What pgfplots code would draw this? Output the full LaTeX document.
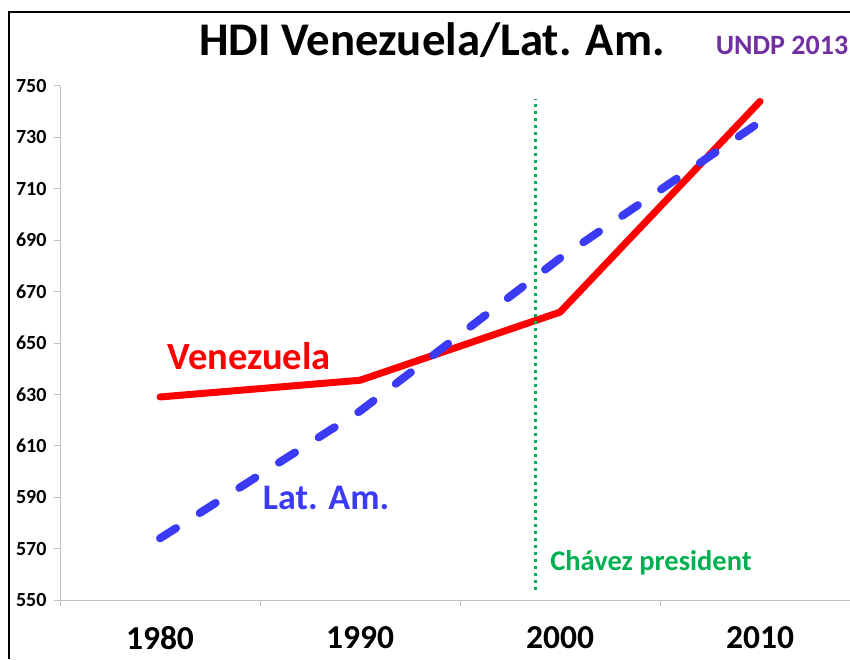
\documentclass[border=0pt]{standalone}
\usepackage{fontspec}
\setmainfont{Carlito}
\usepackage{pgfplots}
\pgfplotsset{compat=1.18}
\definecolor{vred}{HTML}{FF0000}
\definecolor{lblue}{HTML}{3B3BF5}
\definecolor{cgreen}{HTML}{00B050}
\definecolor{upurple}{HTML}{7030A0}
\definecolor{axgray}{HTML}{BFBFBF}
\begin{document}
\begin{tikzpicture}[x=1pt,y=1pt]
\useasboundingbox (0,0) rectangle (850,659);
% slide frame
\draw[line width=2pt,black] (9,0) -- (9,647) -- (850,647);
% title
\node[text=black] at (432,619) {\fontsize{46.8}{52}\selectfont\bfseries HDI Venezuela/Lat. Am.};
\node[text=upurple] at (782,614) {\fontsize{28}{32}\selectfont\bfseries UNDP 2013};
\begin{axis}[
  at={(60pt,59pt)}, anchor=south west,
  scale only axis, width=790pt, height=514pt,
  xmin=1975, xmax=2014.5, ymin=550, ymax=750,
  axis lines*=left,
  axis line style={draw=axgray, line width=1pt, -},
  every tick/.style={draw=axgray, line width=1pt},
  tick align=outside,
  major tick length=6pt,
  ytick={550,570,...,750},
  xtick={1975,1985,1995,2005},
  xticklabels={},
  extra x ticks={1980,1990,2000,2010},
  extra x tick labels={1980,1990,2000,2010},
  extra x tick style={major tick length=0pt, tick style={draw=none}},
  x tick label style={font=\fontsize{33.5}{38}\selectfont\bfseries, yshift=-23pt},
  y tick label style={font=\fontsize{20}{23}\selectfont\bfseries, xshift=-4pt},
  /pgf/number format/assume math mode=true,
  /pgf/number format/1000 sep={},
  clip=false,
]
\addplot[vred, line width=7pt, line cap=round, line join=round] coordinates {
 (1980,629) (1990,635.5) (2000,662) (2010,744)};
\addplot[lblue, line width=8pt, line cap=round, dash pattern=on 19pt off 28pt] coordinates {
 (1980,574) (1990,623.5) (2000,683) (2010,736)};
\addplot[cgreen, line width=3pt, dash pattern=on 3pt off 4pt] coordinates {
 (1998.75,554) (1998.75,745)};
\node[text=vred] at (axis cs:1984.45,645) {\fontsize{38.5}{44}\selectfont\bfseries Venezuela};
\node[text=lblue] at (axis cs:1988.3,589.7) {\fontsize{36}{42}\selectfont\bfseries Lat. Am.};
\node[text=cgreen] at (axis cs:2004.55,564.4) {\fontsize{28.5}{34}\selectfont\bfseries Chávez president};
\end{axis}
\end{tikzpicture}
\end{document}
